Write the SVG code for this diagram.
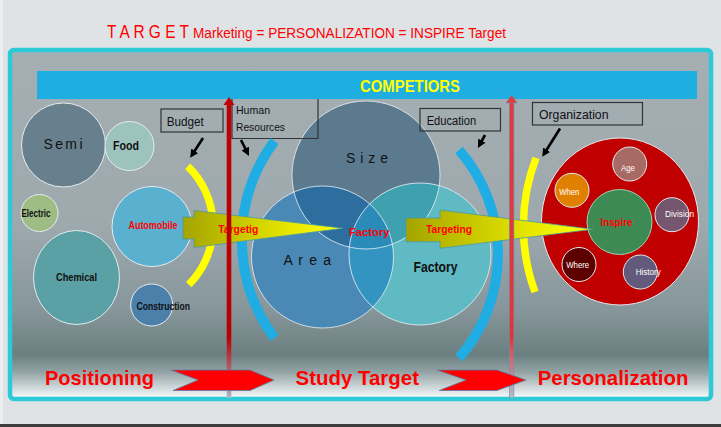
<svg xmlns="http://www.w3.org/2000/svg" width="721" height="427" viewBox="0 0 721 427">
<defs>
<style>
.lbl{font-family:"Liberation Sans",Arial,sans-serif;fill:#111;}
.b{font-weight:bold;}
.red{fill:#ff0000;}
.wht{fill:#ffffff;font-family:"Liberation Sans",Arial,sans-serif;font-size:9px;}
.box{fill:none;stroke:#333;stroke-width:1.2;}
.cs{stroke:#e4ecee;stroke-width:1;}
.ptr{stroke:#000;stroke-width:2.6;fill:none;marker-end:url(#ah);}
.blue-arc{fill:none;stroke:#1fade3;stroke-width:10;}
.yel-arc{fill:none;stroke:#ffff00;stroke-width:7.5;}
.vout{fill:none;stroke:#e8f0f4;stroke-width:1;stroke-opacity:0.8;}
</style>
<marker id="ah" viewBox="0 0 10 10" refX="6" refY="5" markerWidth="3.2" markerHeight="3.2" orient="auto" markerUnits="strokeWidth">
<path d="M0,0 L10,5 L0,10 Z" fill="#000"/>
</marker>
<linearGradient id="panel" x1="0" y1="53" x2="0" y2="396" gradientUnits="userSpaceOnUse">
<stop offset="0" stop-color="#a4aeb3"/>
<stop offset="0.5" stop-color="#9ea9ae"/>
<stop offset="0.75" stop-color="#86969a"/>
<stop offset="0.88" stop-color="#6c7f80"/>
<stop offset="0.93" stop-color="#92a3a5"/>
<stop offset="1" stop-color="#f0f4f5"/>
</linearGradient>
<linearGradient id="tg" x1="0" y1="0" x2="1" y2="0">
<stop offset="0" stop-color="#a4a400"/>
<stop offset="0.7" stop-color="#eaea00"/>
<stop offset="1" stop-color="#ffff10"/>
</linearGradient>
<linearGradient id="rv" x1="0" y1="95" x2="0" y2="398" gradientUnits="userSpaceOnUse">
<stop offset="0" stop-color="#c00000"/>
<stop offset="0.8" stop-color="#b80000"/>
<stop offset="1" stop-color="#a8b8c8"/>
</linearGradient>
<linearGradient id="rv2" x1="0" y1="95" x2="0" y2="398" gradientUnits="userSpaceOnUse">
<stop offset="0" stop-color="#e33a3a"/>
<stop offset="0.8" stop-color="#dd3838"/>
<stop offset="1" stop-color="#b0c0d0"/>
</linearGradient>
<clipPath id="cSize"><circle cx="366" cy="175" r="74"/></clipPath>
<clipPath id="cArea"><circle cx="322.5" cy="257" r="71"/></clipPath>
<clipPath id="cFact"><circle cx="420" cy="254" r="71"/></clipPath>
</defs>

<!-- background -->
<rect x="0" y="0" width="721" height="427" fill="#dfe3e6"/>
<rect x="0" y="0" width="3" height="424" fill="#eaeef0"/>
<rect x="0" y="424" width="721" height="3" fill="#3c3c3c"/>

<g id="title">
<text x="107" y="37.5" class="red" font-family="Liberation Sans,Arial,sans-serif" font-size="18" textLength="82" lengthAdjust="spacingAndGlyphs">T A R G E T</text>
<text x="193" y="37.5" class="red" font-family="Liberation Sans,Arial,sans-serif" font-size="14" textLength="313" lengthAdjust="spacingAndGlyphs">Marketing = PERSONALIZATION = INSPIRE Target</text>
</g>

<g id="frame">
<rect x="10" y="50" width="701" height="349" rx="4" fill="url(#panel)" stroke="#2ccad6" stroke-width="4.5"/>
</g>

<g id="competitors">
<rect x="37" y="71" width="660" height="28" fill="#1eaee2"/>
<text x="410" y="92" text-anchor="middle" font-family="Liberation Sans,Arial,sans-serif" font-weight="bold" font-size="16" fill="#ffff00" textLength="100" lengthAdjust="spacingAndGlyphs">COMPETIORS</text>
</g>

<!-- left market circles -->
<g id="semi"><circle cx="63.5" cy="145" r="42" fill="#687f8d" class="cs"/>
<text x="43.5" y="149" class="lbl" font-size="14" textLength="39" lengthAdjust="spacing">S e m i</text></g>
<g id="food"><circle cx="129.5" cy="146" r="24.5" fill="#9cc3bd" class="cs"/>
<text x="126" y="150" text-anchor="middle" class="lbl b" font-size="12" textLength="26" lengthAdjust="spacingAndGlyphs">Food</text></g>
<g id="electric"><circle cx="39.5" cy="213" r="18.5" fill="#9dbd85" class="cs"/>
<text x="21.5" y="217" class="lbl b" font-size="10" textLength="29" lengthAdjust="spacingAndGlyphs">Electric</text></g>
<g id="automobile"><circle cx="152" cy="226.5" r="40" fill="#5ab0cf" class="cs"/>
<text x="128.5" y="229" class="lbl b red" font-size="10" textLength="49" lengthAdjust="spacingAndGlyphs">Automobile</text></g>
<g id="chemical"><ellipse cx="76.5" cy="277.5" rx="43" ry="47" fill="#5aa0a4" class="cs"/>
<text x="56" y="281" class="lbl b" font-size="11" textLength="41" lengthAdjust="spacingAndGlyphs">Chemical</text></g>
<g id="construction"><circle cx="151.7" cy="305" r="21" fill="#4a80aa" class="cs"/>
<text x="136.5" y="310" class="lbl b" font-size="10" textLength="53.5" lengthAdjust="spacingAndGlyphs">Construction</text></g>

<!-- venn -->
<g id="venn">
<circle cx="366" cy="175" r="74" fill="#5b7a8e"/>
<circle cx="322.5" cy="257" r="71" fill="#4a88b6"/>
<circle cx="420" cy="254" r="71" fill="#5fbac3"/>
<g clip-path="url(#cSize)">
<circle cx="322.5" cy="257" r="71" fill="#2d6e9f"/>
<circle cx="420" cy="254" r="71" fill="#3fa0b0"/>
</g>
<g clip-path="url(#cArea)">
<circle cx="420" cy="254" r="71" fill="#3394c1"/>
<g clip-path="url(#cSize)"><circle cx="420" cy="254" r="71" fill="#2a8ab8"/></g>
</g>
<circle cx="366" cy="175" r="74" class="vout"/>
<circle cx="322.5" cy="257" r="71" class="vout"/>
<circle cx="420" cy="254" r="71" class="vout"/>
<text x="346" y="162.5" class="lbl" font-size="14" textLength="42" lengthAdjust="spacing">S i z e</text>
<text x="283.5" y="265" class="lbl" font-size="14" textLength="47.5" lengthAdjust="spacing">A r e a</text>
<text x="413.5" y="272" class="lbl b" font-size="14" textLength="44" lengthAdjust="spacingAndGlyphs">Factory</text>
</g>

<!-- right personalization circles -->
<g id="personal">
<ellipse cx="620" cy="221.5" rx="78.5" ry="83.5" fill="#c00000" class="cs"/>
</g>
<g id="age"><circle cx="629.7" cy="164" r="17" fill="#a86a64" class="cs"/><text x="628" y="171" text-anchor="middle" class="wht" textLength="14" lengthAdjust="spacingAndGlyphs">Age</text></g>
<g id="when"><circle cx="572" cy="190.3" r="17" fill="#e08000" class="cs"/><text x="569.3" y="194.5" text-anchor="middle" class="wht" textLength="20" lengthAdjust="spacingAndGlyphs">When</text></g>
<g id="division"><circle cx="672" cy="214.7" r="17" fill="#74566e" class="cs"/><text x="679.5" y="217" text-anchor="middle" class="wht" textLength="29" lengthAdjust="spacingAndGlyphs">Division</text></g>
<g id="where"><circle cx="579" cy="264.5" r="17" fill="#5c0000" class="cs"/><text x="577.7" y="268" text-anchor="middle" class="wht" textLength="23" lengthAdjust="spacingAndGlyphs">Where</text></g>
<g id="history"><circle cx="640.3" cy="272" r="17" fill="#625a7c" class="cs"/><text x="648.2" y="275" text-anchor="middle" class="wht" textLength="25" lengthAdjust="spacingAndGlyphs">History</text></g>
<g id="inspire"><circle cx="619.5" cy="222" r="32.5" fill="#3d8a55" stroke="#a0d0b0" stroke-width="1"/>
<text x="616.5" y="226" text-anchor="middle" class="lbl b red" font-size="11" textLength="32" lengthAdjust="spacingAndGlyphs">Inspire</text></g>

<!-- label boxes -->
<g id="budget"><rect x="161" y="109" width="62" height="23" class="box"/>
<text x="166.7" y="126" class="lbl" font-size="12" textLength="37" lengthAdjust="spacingAndGlyphs">Budget</text></g>
<g id="hr"><path d="M232,99 V138.5 H318 V99" class="box"/>
<text x="236" y="114" class="lbl" font-size="11.5" textLength="34" lengthAdjust="spacingAndGlyphs">Human</text>
<text x="236" y="131" class="lbl" font-size="11.5" textLength="49" lengthAdjust="spacingAndGlyphs">Resources</text></g>
<g id="education"><rect x="420" y="108.5" width="80.5" height="22.5" class="box"/>
<text x="426.7" y="125" class="lbl" font-size="12" textLength="49.5" lengthAdjust="spacingAndGlyphs">Education</text></g>
<g id="organization"><rect x="532.5" y="102.5" width="110" height="22.5" class="box"/>
<text x="539" y="119" class="lbl" font-size="12" textLength="69.5" lengthAdjust="spacingAndGlyphs">Organization</text></g>

<!-- connectors -->
<g id="connectors">
<path d="M187.7,166.3 A83,83 0 0 1 188.7,284.7" class="yel-arc"/>
<path d="M274.5,141 A165,165 0 0 0 274.5,338" class="blue-arc"/>
<path d="M459,150 A158,158 0 0 1 459,358" class="blue-arc"/>
<path d="M536,158 A191,191 0 0 0 535,292" class="yel-arc" stroke-width="8"/>

<line x1="203" y1="138" x2="192" y2="155" class="ptr"/>
<line x1="241" y1="140" x2="247.5" y2="153" class="ptr"/>
<line x1="485" y1="135" x2="479.5" y2="145" class="ptr"/>
<line x1="560" y1="128.5" x2="544" y2="154" class="ptr"/>

<path d="M183,217 L194,217 L194,210.5 L343,228.3 L194,247.5 L194,239 L183,239 Z" fill="url(#tg)" stroke="#4a9a9a" stroke-width="0.8"/>
<text x="218.3" y="233" class="lbl b red" font-size="10" textLength="40" lengthAdjust="spacingAndGlyphs">Targetig</text>
<path d="M406,218 L440,218 L440,210 L593,229.3 L440,248.3 L440,241.7 L406,241.7 Z" fill="url(#tg)" stroke="#4a9a9a" stroke-width="0.8"/>
<text x="426" y="233" class="lbl b red" font-size="10" textLength="46" lengthAdjust="spacingAndGlyphs">Targeting</text>
<text x="349" y="235.5" class="lbl b red" font-size="11" textLength="40.5" lengthAdjust="spacingAndGlyphs">Factory</text>

<rect x="226.7" y="104" width="4.6" height="294" fill="url(#rv)"/>
<path d="M223.5,105 L229,97 L234.5,105 Z" fill="#c00000"/>
<rect x="509.3" y="102" width="4.6" height="296" fill="url(#rv2)" stroke="#6a8fb5" stroke-width="0.6"/>
<path d="M506,103 L511.6,95 L517.2,103 Z" fill="#e33a3a" stroke="#6a8fb5" stroke-width="0.6"/>

<path d="M171,370 L250,370 L274,380 L250,390.5 L173,390.5 L198,380 Z" fill="#ff0000" stroke="#5a7fa8" stroke-width="0.8"/>
<path d="M437,370 L497,370 L526,380 L497,390.5 L439,390.5 L466,380 Z" fill="#ff0000" stroke="#5a7fa8" stroke-width="0.8"/>
</g>

<g id="stages">
<text x="45" y="385" class="lbl b red" font-size="21" textLength="109" lengthAdjust="spacingAndGlyphs">Positioning</text>
<text x="295.5" y="385" class="lbl b red" font-size="21" textLength="123.5" lengthAdjust="spacingAndGlyphs">Study Target</text>
<text x="537.7" y="385" class="lbl b red" font-size="21" textLength="150.7" lengthAdjust="spacingAndGlyphs">Personalization</text>
</g>
</svg>
